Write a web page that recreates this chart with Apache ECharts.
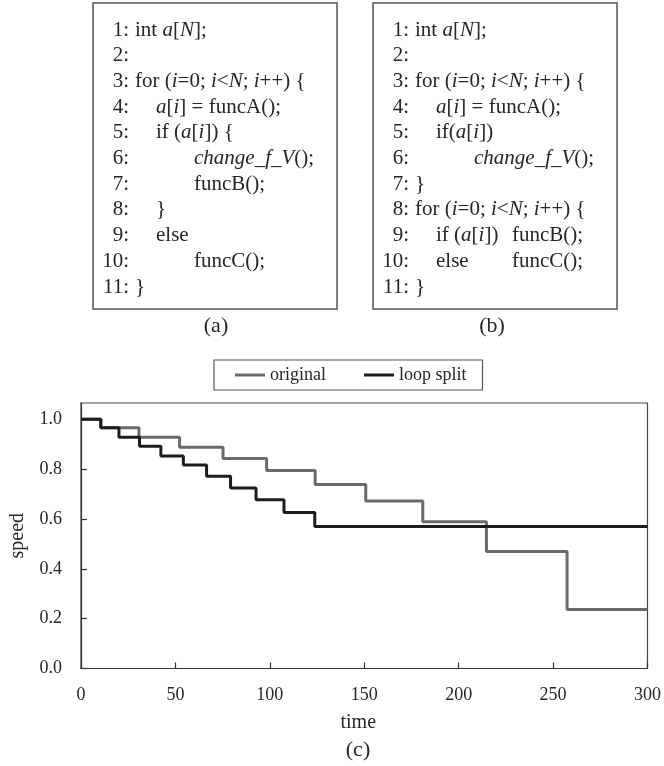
<!DOCTYPE html>
<html>
<head>
<meta charset="utf-8">
<script src="https://cdn.jsdelivr.net/npm/echarts@6/dist/echarts.min.js"></script>
<style>
  html, body { margin: 0; padding: 0; background: #fff; }
  #chart { width: 664px; height: 766px; }
</style>
</head>
<body>
<div id="chart"></div>
<script>
// 数据：阶梯曲线（时间, 速度）
const seriesNames = ["original", "loop split"];
const originalTime = [0, 10.5, 30.7, 52.2, 75.2, 98.3, 124, 150.8, 181, 214.7, 257.4, 300];
const originalSpeed = [1.0, 0.966, 0.928, 0.888, 0.842, 0.794, 0.738, 0.672, 0.589, 0.469, 0.237, 0.237];
const splitTime = [0, 10.5, 20.1, 31, 42.3, 54.2, 66.5, 79.2, 92.7, 107.5, 123.8, 300];
const splitSpeed = [1.0, 0.966, 0.928, 0.892, 0.852, 0.816, 0.771, 0.724, 0.677, 0.626, 0.570, 0.570];

// 代码框 (a) (b) 的文字，{i|..} 为斜体
const codeA = [
  ["1:", 0, "int {i|a}[{i|N}];"],
  ["2:", 0, ""],
  ["3:", 0, "for ({i|i}=0; {i|i}<{i|N}; {i|i}++) {"],
  ["4:", 1, "{i|a}[{i|i}] = funcA();"],
  ["5:", 1, "if ({i|a}[{i|i}]) {"],
  ["6:", 2, "{i|change_f_V}();"],
  ["7:", 2, "funcB();"],
  ["8:", 1, "}"],
  ["9:", 1, "else"],
  ["10:", 2, "funcC();"],
  ["11:", 0, "}"],
];
const codeB = [
  ["1:", 0, "int {i|a}[{i|N}];"],
  ["2:", 0, ""],
  ["3:", 0, "for ({i|i}=0; {i|i}<{i|N}; {i|i}++) {"],
  ["4:", 1, "{i|a}[{i|i}] = funcA();"],
  ["5:", 1, "if({i|a}[{i|i}])"],
  ["6:", 2, "{i|change_f_V}();"],
  ["7:", 0, "}"],
  ["8:", 0, "for ({i|i}=0; {i|i}<{i|N}; {i|i}++) {"],
  ["9:", 1, "if ({i|a}[{i|i}])", "funcB();"],
  ["10:", 1, "else", "funcC();"],
  ["11:", 0, "}"],
];

const serif = "'Liberation Serif', 'DejaVu Serif', serif";
const textColor = "#262626";

const pairs = (xs, ys) => xs.map((x, i) => [x, ys[i]]);

// 生成代码框的 graphic 元素
function codeBox(left, lines) {
  const els = [];
  els.push({
    type: "rect",
    shape: { x: left, y: 3, width: 244, height: 306 },
    style: { fill: "#fff", stroke: "#555", lineWidth: 1.5 },
  });
  const cols = [left + 42, left + 63, left + 101];
  lines.forEach((ln, k) => {
    const y = 30 + k * 25.7;
    els.push({
      type: "text",
      x: left + 36,
      y: y,
      style: {
        text: ln[0],
        font: "21px " + serif,
        fill: textColor,
        align: "right",
        verticalAlign: "middle",
      },
    });
    els.push({
      type: "text",
      x: cols[ln[1]],
      y: y,
      style: {
        text: ln[2],
        font: "21px " + serif,
        fill: textColor,
        verticalAlign: "middle",
        rich: {
          i: { font: "italic 21px " + serif, fill: textColor },
        },
      },
    });
    if (ln[3]) {
      els.push({
        type: "text",
        x: left + 139,
        y: y,
        style: {
          text: ln[3],
          font: "21px " + serif,
          fill: textColor,
          verticalAlign: "middle",
        },
      });
    }
  });
  return els;
}

function caption(x, y, t) {
  return {
    type: "text",
    x: x,
    y: y,
    style: {
      text: t,
      font: "22px " + serif,
      fill: textColor,
      align: "center",
      verticalAlign: "middle",
    },
  };
}

const chart = echarts.init(document.getElementById("chart"), null, { renderer: "canvas" });

const option = {
  backgroundColor: "#fff",
  animation: false,
  graphic: [
    ...codeBox(93, codeA),
    ...codeBox(373, codeB),
    caption(216, 326, "(a)"),
    caption(492, 326, "(b)"),
    caption(358, 750, "(c)"),
  ],
  legend: {
    data: seriesNames,
    left: 214,
    top: 360,
    padding: [6, 16, 6, 21],
    itemGap: 38,
    itemWidth: 30,
    itemHeight: 3,
    icon: "rect",
    borderColor: "#555",
    borderWidth: 1.2,
    textStyle: { fontFamily: serif, fontSize: 18, color: textColor },
  },
  grid: {
    left: 78,
    right: 13,
    top: 403,
    bottom: 97.5,
    show: true,
    borderColor: "#444",
    borderWidth: 1.2,
    backgroundColor: "transparent",
  },
  xAxis: {
    type: "value",
    min: 0,
    max: 300,
    interval: 50,
    name: "time",
    nameLocation: "middle",
    nameGap: 44,
    nameTextStyle: { fontFamily: serif, fontSize: 20, color: textColor, padding: [0, 12, 0, 0] },
    axisLine: { show: true, lineStyle: { color: "#333", width: 1.2 } },
    axisTick: { show: true, inside: true, length: 6, lineStyle: { color: "#333", width: 1.2 } },
    axisLabel: { fontFamily: serif, fontSize: 18, color: textColor, margin: 18 },
    splitLine: { show: false },
  },
  yAxis: {
    type: "value",
    min: 0,
    max: 1.065,
    interval: 0.2,
    name: "speed",
    nameLocation: "middle",
    nameGap: 53,
    nameTextStyle: { fontFamily: serif, fontSize: 20, color: textColor },
    axisLine: { show: true, lineStyle: { color: "#333", width: 1.2 } },
    axisTick: { show: true, inside: true, length: 6, lineStyle: { color: "#333", width: 1.2 } },
    axisLabel: {
      fontFamily: serif,
      fontSize: 18,
      color: textColor,
      margin: 19,
      showMaxLabel: false,
      formatter: (v) => v.toFixed(1),
    },
    splitLine: { show: false },
  },
  series: [
    {
      name: seriesNames[0],
      type: "line",
      step: "end",
      symbol: "none",
      data: pairs(originalTime, originalSpeed),
      lineStyle: { color: "#6a6a6a", width: 3 },
      itemStyle: { color: "#6a6a6a" },
    },
    {
      name: seriesNames[1],
      type: "line",
      step: "end",
      symbol: "none",
      data: pairs(splitTime, splitSpeed),
      lineStyle: { color: "#1c1c1c", width: 3 },
      itemStyle: { color: "#1c1c1c" },
    },
  ],
};

chart.setOption(option);
</script>
</body>
</html>
